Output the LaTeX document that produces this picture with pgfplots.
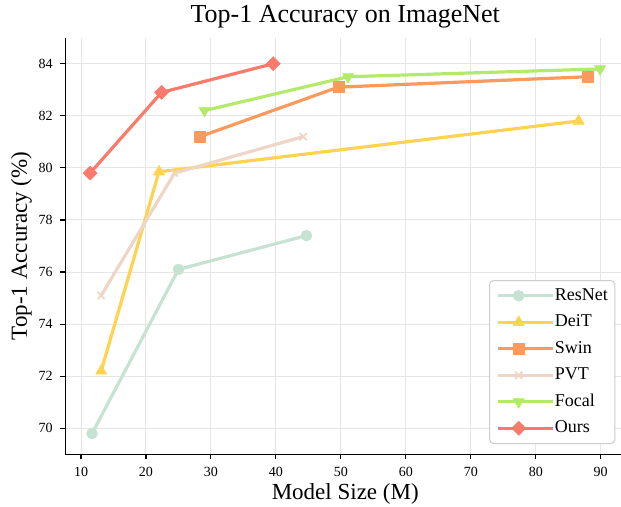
\documentclass[border=0pt]{standalone}
\usepackage{fontspec}
\setmainfont{Liberation Serif}
\usepackage{pgfplots}
\pgfplotsset{compat=1.18}
\definecolor{cres}{HTML}{C6E2D3}
\definecolor{cdeit}{HTML}{FFD34F}
\definecolor{cswin}{HTML}{FC995C}
\definecolor{cpvt}{HTML}{EDD6C6}
\definecolor{cfocal}{HTML}{B4EA6B}
\definecolor{cours}{HTML}{FA7A6C}
\definecolor{cgrid}{HTML}{E6E6E6}
\definecolor{cleg}{HTML}{CCCCCC}
\begin{document}
\begin{tikzpicture}
\useasboundingbox (-65.1pt,-51.7pt) rectangle (555.9pt,454.3pt);
\begin{axis}[
  at={(0pt,0pt)}, anchor=south west,
  scale only axis, width=560.3pt, height=416.6pt,
  xmin=7.55, xmax=93.8, ymin=69, ymax=85,
  axis x line*=bottom, axis y line*=left,
  x axis line style={-}, y axis line style={-},
  axis line style={black, line width=1.1pt},
  tick align=outside, major tick length=5pt,
  tick style={black, line width=1.1pt},
  xtick={10,20,...,90}, ytick={70,72,...,84},
  xticklabels={10,20,30,40,50,60,70,80,90},
  yticklabels={70,72,74,76,78,80,82,84},
  grid=major, major grid style={cgrid, line width=1pt},
  ticklabel style={font=\fontsize{14}{14}\selectfont},
  xticklabel style={yshift=-4pt},
  yticklabel style={xshift=-4pt},
  title={Top-1 Accuracy on ImageNet},
  title style={font=\fontsize{26}{26}\selectfont, at={(axis description cs:0.5,1.0211)}, anchor=base},
  xlabel={Model Size (M)},
  xlabel style={font=\fontsize{23}{23}\selectfont, at={(axis description cs:0.5,-0.1085)}, anchor=base},
  ylabel={Top-1 Accuracy (\%)},
  ylabel style={font=\fontsize{23}{23}\selectfont, at={(axis description cs:-0.0682,0.5)}, anchor=base},
  legend style={at={(0.982,0.0247)}, anchor=south east, draw=cleg, line width=1pt, rounded corners=4pt, fill=white,
    font=\fontsize{18}{18}\selectfont, inner xsep=7pt, inner ysep=2pt, column sep=0pt, row sep=0pt,
    nodes={inner xsep=0pt, inner ysep=4.5pt, text height=13pt, text depth=4.5pt}},
  legend cell align=left,
  legend image code/.code={\path (0pt,0pt) -- (55pt,0pt);\draw[mark repeat=2,mark phase=2] plot coordinates {(0pt,0pt) (20.5pt,0pt) (41pt,0pt)};},
  every axis plot/.append style={line width=3.2pt, line join=round},
]
\addplot[cres, mark=*, mark size=5.5pt, mark options={line width=0.5pt, fill=cres}] coordinates {(11.7,69.8) (25.0,76.1) (44.7,77.4)};
\addlegendentry{ResNet}
\addplot[cdeit, mark=triangle*, mark size=6.5pt, mark options={line width=0.5pt, fill=cdeit}] coordinates {(13.1,72.2) (22.0,79.85) (86.6,81.8)};
\addlegendentry{DeiT}
\addplot[cswin, mark=square*, mark size=5.5pt, mark options={line width=0.5pt, fill=cswin}] coordinates {(28.3,81.2) (49.6,83.1) (88.0,83.5)};
\addlegendentry{Swin}
\addplot[cpvt, mark=x, mark size=5pt, mark options={line width=1.8pt}] coordinates {(13.1,75.1) (24.4,79.8) (44.2,81.2)};
\addlegendentry{PVT}
\addplot[cfocal, mark=triangle*, mark size=6.5pt, mark options={rotate=180, line width=0.5pt, fill=cfocal}] coordinates {(29.0,82.2) (51.1,83.5) (89.9,83.8)};
\addlegendentry{Focal}
\addplot[cours, mark=square*, mark size=5pt, mark options={rotate=45, line width=0.5pt, fill=cours}] coordinates {(11.4,79.8) (22.4,82.9) (39.6,84.0)};
\addlegendentry{Ours}
\end{axis}
\end{tikzpicture}
\end{document}
